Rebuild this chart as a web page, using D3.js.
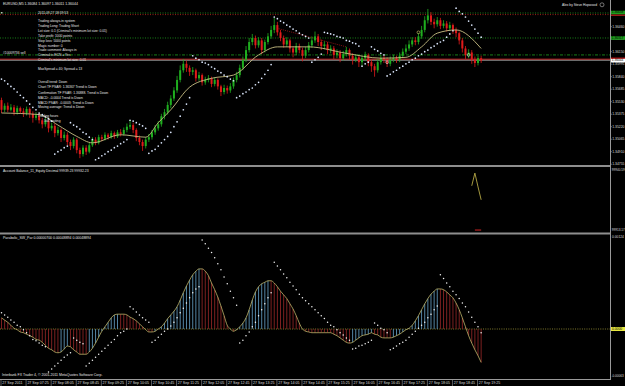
<!DOCTYPE html>
<html><head><meta charset="utf-8">
<script src="https://cdn.jsdelivr.net/npm/d3@7"></script>
<style>html,body{margin:0;padding:0;background:#000;overflow:hidden}svg{display:block}text{font-family:"Liberation Sans",Arial,sans-serif}</style>
</head><body><svg id="c" width="625" height="386"></svg>
<script>
// ---------- DATA ----------
const firstOpen = 1.3555;
const closes = [1.3543,1.3548,1.3543,1.3546,1.3540,1.3545,1.3541,1.3539,1.3544,1.3538,
 1.3533,1.3536,1.3530,1.3525,1.3529,1.3520,1.3523,1.3514,1.3518,1.3508,
 1.3512,1.3503,1.3498,1.3506,1.3493,1.3488,1.3496,1.3491,1.3499,1.3506,
 1.3502,1.3509,1.3507,1.3512,1.3509,1.3514,1.3510,1.3515,1.3513,1.3518,
 1.3522,1.3524,1.3518,1.3508,1.3503,1.3498,1.3506,1.3509,1.3515,1.3520,
 1.3525,1.3535,1.3540,1.3549,1.3557,1.3567,1.3580,1.3592,1.3600,1.3595,
 1.3590,1.3592,1.3582,1.3586,1.3577,1.3580,1.3582,1.3575,1.3580,1.3572,
 1.3565,1.3570,1.3567,1.3572,1.3580,1.3586,1.3595,1.3605,1.3617,1.3627,
 1.3632,1.3623,1.3629,1.3617,1.3627,1.3634,1.3642,1.3648,1.3639,1.3632,
 1.3624,1.3629,1.3619,1.3614,1.3622,1.3617,1.3610,1.3617,1.3623,1.3629,
 1.3634,1.3627,1.3622,1.3624,1.3617,1.3619,1.3611,1.3614,1.3607,1.3612,
 1.3617,1.3610,1.3605,1.3608,1.3602,1.3607,1.3611,1.3602,1.3597,1.3592,
 1.3602,1.3607,1.3605,1.3600,1.3605,1.3607,1.3605,1.3610,1.3615,1.3619,
 1.3624,1.3629,1.3627,1.3634,1.3642,1.3654,1.3660,1.3652,1.3649,1.3654,
 1.3647,1.3650,1.3644,1.3648,1.3642,1.3638,1.3629,1.3619,1.3611,1.3614,
 1.3605,1.3601,1.3607,1.3604];
const highs = [1.3558,1.3551,1.3552,1.3550,1.3549,1.3548,1.3547,1.3545,1.3547,1.3546,
 1.3541,1.3540,1.3539,1.3533,1.3533,1.3531,1.3527,1.3526,1.3522,1.3520,
 1.3516,1.3515,1.3506,1.3509,1.3508,1.3496,1.3499,1.3499,1.3502,1.3509,
 1.3509,1.3512,1.3512,1.3515,1.3514,1.3517,1.3516,1.3518,1.3519,1.3521,
 1.3526,1.3530,1.3527,1.3520,1.3511,1.3506,1.3509,1.3513,1.3518,1.3524,
 1.3529,1.3538,1.3544,1.3553,1.3561,1.3571,1.3585,1.3598,1.3606,1.3604,
 1.3598,1.3596,1.3594,1.3590,1.3588,1.3584,1.3586,1.3584,1.3583,1.3582,
 1.3574,1.3574,1.3573,1.3576,1.3583,1.3590,1.3599,1.3609,1.3622,1.3632,
 1.3637,1.3635,1.3633,1.3632,1.3630,1.3638,1.3647,1.3657,1.3652,1.3642,
 1.3635,1.3633,1.3631,1.3622,1.3626,1.3625,1.3620,1.3621,1.3627,1.3634,
 1.3640,1.3637,1.3630,1.3628,1.3627,1.3623,1.3622,1.3618,1.3617,1.3616,
 1.3621,1.3619,1.3613,1.3612,1.3611,1.3610,1.3615,1.3613,1.3605,1.3600,
 1.3606,1.3611,1.3610,1.3608,1.3609,1.3611,1.3610,1.3614,1.3619,1.3624,
 1.3629,1.3633,1.3633,1.3638,1.3647,1.3659,1.3668,1.3664,1.3656,1.3658,
 1.3657,1.3654,1.3653,1.3652,1.3650,1.3645,1.3640,1.3632,1.3622,1.3618,
 1.3617,1.3609,1.3610,1.3610];
const lows = [1.3539,1.3540,1.3540,1.3541,1.3536,1.3537,1.3538,1.3534,1.3536,1.3533,
 1.3527,1.3530,1.3526,1.3520,1.3522,1.3515,1.3517,1.3509,1.3511,1.3503,
 1.3505,1.3499,1.3493,1.3495,1.3489,1.3483,1.3485,1.3487,1.3489,1.3497,
 1.3499,1.3500,1.3504,1.3505,1.3506,1.3507,1.3507,1.3508,1.3510,1.3511,
 1.3515,1.3519,1.3514,1.3504,1.3499,1.3492,1.3495,1.3503,1.3506,1.3512,
 1.3517,1.3522,1.3531,1.3537,1.3545,1.3554,1.3564,1.3577,1.3589,1.3590,
 1.3585,1.3586,1.3578,1.3579,1.3573,1.3574,1.3577,1.3571,1.3572,1.3568,
 1.3560,1.3562,1.3563,1.3564,1.3569,1.3577,1.3583,1.3592,1.3602,1.3614,
 1.3623,1.3619,1.3620,1.3612,1.3614,1.3624,1.3631,1.3638,1.3635,1.3628,
 1.3620,1.3621,1.3614,1.3608,1.3611,1.3613,1.3603,1.3607,1.3614,1.3620,
 1.3626,1.3622,1.3617,1.3618,1.3612,1.3613,1.3606,1.3607,1.3602,1.3604,
 1.3609,1.3605,1.3599,1.3602,1.3596,1.3598,1.3604,1.3597,1.3590,1.3584,
 1.3589,1.3599,1.3601,1.3596,1.3597,1.3602,1.3601,1.3602,1.3607,1.3612,
 1.3616,1.3621,1.3623,1.3624,1.3631,1.3639,1.3650,1.3648,1.3644,1.3646,
 1.3643,1.3644,1.3640,1.3641,1.3637,1.3633,1.3624,1.3614,1.3606,1.3607,
 1.3600,1.3596,1.3598,1.3601];
const psar = [1.3581,1.3579,1.3575,1.3572,1.3569,1.3565,1.3561,1.3558,1.3554,1.3550,1.3546,1.3543,1.3539,1.3537,1.3534,1.3532,1.3529,
 1.3488,1.3491,1.3493,1.3496,1.3498,
 1.3527,1.3524,1.3522,1.3519,1.3515,1.3513,1.3509,1.3506,
 1.3481,1.3483,1.3486,1.3488,1.3491,1.3493,1.3496,1.3498,1.3501,1.3503,1.3506,
 1.3530,1.3529,1.3527,1.3525,1.3523,1.3520,
 1.3489,1.3492,1.3494,1.3498,1.3502,1.3506,1.3510,1.3515,1.3522,1.3528,1.3535,1.3543,1.3550,1.3558,
 1.3610,1.3607,1.3605,1.3602,1.3601,1.3599,1.3596,1.3594,1.3591,1.3589,1.3586,1.3584,1.3581,1.3579,
 1.3558,1.3560,1.3563,1.3565,1.3568,1.3570,1.3574,1.3577,1.3582,1.3587,1.3592,1.3599,
 1.3658,1.3656,1.3653,1.3651,1.3648,1.3646,1.3643,1.3641,1.3638,1.3636,1.3634,1.3632,
 1.3602,1.3605,1.3608,1.3612,
 1.3639,1.3638,1.3637,1.3636,1.3634,1.3633,1.3632,1.3629,1.3628,1.3626,1.3625,1.3622,
 1.3597,1.3600,1.3602,
 1.3621,1.3618,1.3616,1.3613,1.3611,
 1.3585,1.3587,1.3590,1.3592,1.3595,1.3597,1.3600,1.3602,1.3605,1.3607,1.3610,1.3612,1.3615,1.3617,1.3620,1.3622,1.3625,1.3627,1.3629,1.3633,1.3637,1.3641,
 1.3669,1.3665,1.3662,1.3658,1.3653,1.3648,1.3643,1.3638,1.3633];
const maBars = [0,12,18,24,29,38,46,50,54,60,67,74,82,88,98,110,121,129,134,139,145,153];
const maVals = [1.3539,1.3537,1.3524,1.3510,1.3502,1.3512,1.3509,1.3527,1.3543,1.3571,1.3582,1.3586,1.3611,1.3621,1.3621,1.3613,1.3607,1.3608,1.3621,1.3638,1.3642,1.3619];
// oscillator in units of 0.00001
const osc = [15,12,9,5,1,-1,-4,-5,-7,-9,
 -11,-14,-15,-18,-22,-26,-28,-31,-32,-31,
 -27,-23,-24,-28,-31,-34,-34,-34,-31,-26,
 -19,-11,-3,3,9,15,19,20,20,20,
 19,16,14,11,7,3,-1,-4,-4,-3,
 0,3,8,14,19,24,30,39,49,58,
 66,73,78,81,81,78,72,62,53,43,
 31,18,5,0,-3,-1,3,8,15,26,
 39,50,57,61,63,65,65,62,57,51,
 46,41,34,27,18,8,0,-3,-4,-5,
 -5,-5,-5,-5,-5,-5,-7,-9,-12,-15,
 -18,-19,-18,-15,-12,-9,-8,-7,-5,-7,
 -8,-11,-12,-12,-12,-11,-9,-7,-4,-1,
 1,5,11,18,26,34,41,47,51,54,
 54,53,50,46,42,35,26,15,3,-9,
 -19,-28,-36,-45];
const oscSar = [22,19,16,12,9,5,3,-1,-5,-9,-14,-16,-19,-22,-24,
 -58,-54,-50,-46,-42,-38,-35,-32,
 -12,-15,-18,-20,
 -50,-46,-42,-38,-34,-30,-26,-22,-18,-14,-9,-5,-3,0,
 30,27,23,19,15,12,9,
 -18,-15,-11,-7,-3,
 0,4,9,15,22,28,35,42,49,54,57,
 120,115,109,103,96,88,80,70,61,51,42,32,
 -19,-15,-9,-4,3,9,18,26,34,42,49,
 90,85,80,74,69,63,58,53,47,42,38,34,30,26,22,18,14,9,5,3,-1,-5,-8,-12,-15,
 -27,-26,-23,-22,-20,-18,-15,
 8,5,1,-1,-5,
 -28,-26,-23,-20,-18,-15,-11,-7,-3,1,5,9,15,20,26,31,
 73,68,62,57,51,46,41,35,30,23,16,9,3,-5];
const eqBars = [150,151,152,153];
const eqVals = [99933.5,99939.2,99933.0,99927.2];
const balBars = [151,152,153];
const balVals = [99913.6,99913.6,99913.6];
const priceTicks = [1.34755,1.34910,1.35065,1.35220,1.35375,1.35530,1.35685,1.35840,1.35995,1.36150,1.36305,1.36460];
const timeBars = [0,8,16,24,32,40,48,56,64,72,80,88,96,104,112,120,128,136,144,152];
const timeLabels = ["27 Sep 2011","27 Sep 07:25","27 Sep 08:05","27 Sep 08:45","27 Sep 09:25","27 Sep 10:05","27 Sep 10:45","27 Sep 11:25","27 Sep 12:05","27 Sep 12:45","27 Sep 13:25","27 Sep 14:05","27 Sep 14:45","27 Sep 15:25","27 Sep 16:05","27 Sep 16:45","27 Sep 17:25","27 Sep 18:05","27 Sep 18:45","27 Sep 19:25"];
const infoLines = [["2011.09.27 18:59:53",13.3],["Trading always-in system",21],["Trading Long: Trading Short",26.3],
 ["Lot size: 0.1 (Criminal's minimum lot size: 0.01)",31.3],["Take profit: 1000 points",36],["Stop loss: 5000 points",41],
 ["Magic number: 0",45.7],["Trade comment: Always in",50.3],["Criminal is ECN = Yes",55],["Criminal's minimum lot size: 0.01",59.7],
 ["MaxSpread = 40; Spread = 13",69.3],["Overall trend: Down",81.7],["Chart TF PSAR: 1.36367 Trend is Down",87.3],
 ["Confirmation TF PSAR: 1.36888. Trend is Down",92.7],["MACD: -0.0004 Trend is Down",97.7],["MACD PSAR: -0.0003; Trend is Down",102.7],
 ["Moving average: Trend is Down",107.3],["Trading hours",115.7]];
const levels = {slTop:1.3663, sl:1.3661, tp:1.3632, order:1.3611, ask:1.36057, bid:1.36044};

// ---------- DRAW ----------
const svg = d3.select("#c");
svg.append("rect").attr("width",625).attr("height",386).attr("fill","#000");
const x = d3.scaleLinear().domain([0,153]).range([1.5,1.5+153*3.135]);
const yP = d3.scaleLinear().domain([1.34755,1.36460]).range([164.2,26.7]);
const yO = d3.scaleLinear().domain([0,124]).range([329,237]);
const yE = d3.scaleLinear().domain([99913.17,99940.59]).range([231,170]);
const opens = [firstOpen].concat(closes.slice(0,-1));
const fs = (s)=>s+"px";

const main = svg.append("g");
svg.append("clipPath").attr("id","mc").append("rect").attr("x",0).attr("y",0).attr("width",610).attr("height",165);
main.attr("clip-path","url(#mc)");

const hl = (p,col,dash,w)=>main.append("line").attr("x1",0).attr("x2",610).attr("y1",yP(p)).attr("y2",yP(p))
  .attr("stroke",col).attr("stroke-width",w||0.8).attr("stroke-dasharray",dash||null);
hl(levels.slTop,"#1e9e1e","1,1.5");
hl(levels.sl,"#c02020","1,1.5");
hl(levels.tp,"#1e9e1e","1,1.5");
hl(levels.order,"#1e9e1e","3,1.5,1,1.5");
hl(levels.ask,"#d02020",null,1);
hl(levels.bid,"#b8b8b8",null,0.8);

main.append("line").attr("x1",x(88)).attr("y1",yP(1.3644)).attr("x2",x(110)).attr("y2",yP(1.3621))
  .attr("stroke","#a01818").attr("stroke-width",0.8).attr("stroke-dasharray","1,1");

const idx = d3.range(closes.length);
const up = i => closes[i] >= opens[i];
main.append("g").selectAll("line").data(idx).join("line")
  .attr("x1",i=>x(i)).attr("x2",i=>x(i)).attr("y1",i=>yP(highs[i])).attr("y2",i=>yP(lows[i]))
  .attr("stroke",i=>up(i)?"#1fae1f":"#e01b1b").attr("stroke-width",0.8);
main.append("g").selectAll("rect").data(idx).join("rect")
  .attr("x",i=>x(i)-1).attr("width",2)
  .attr("y",i=>yP(Math.max(opens[i],closes[i])))
  .attr("height",i=>Math.max(0.8,Math.abs(yP(opens[i])-yP(closes[i]))))
  .attr("fill",i=>up(i)?"#1fae1f":"#e01b1b");

main.append("path").datum(maBars.map((b,k)=>[b,maVals[k]]))
  .attr("d",d3.line().x(d=>x(d[0])).y(d=>yP(d[1])).curve(d3.curveMonotoneX))
  .attr("fill","none").attr("stroke","#c8bf84").attr("stroke-width",0.9);

main.append("g").selectAll("circle").data(idx).join("circle")
  .attr("cx",i=>x(i)).attr("cy",i=>yP(psar[i])).attr("r",0.85).attr("fill","#dde9ff");

[[123,1.3602,"#e0e0e0"],[133,1.3639,"#d8d070"],[149,1.3611,"#f0e0e0"]].forEach(m=>{
  main.append("circle").attr("cx",x(m[0])).attr("cy",yP(m[1])).attr("r",1.4).attr("fill","none").attr("stroke",m[2]).attr("stroke-width",0.6);
});

const tx = (t,xx,yy,size,col,anchor)=>svg.append("text").attr("x",xx).attr("y",yy).text(t)
  .attr("font-size",fs(size)).attr("fill",col||"#e6e6e6").attr("text-anchor",anchor||"start").attr("dominant-baseline","middle");
tx("EURUSD,M5  1.36084 1.36097 1.36011 1.36044",3,4.5,3.5);
tx("Alex by Steve Hopwood",597,5,3.3,"#e6e6e6","end");
svg.append("circle").attr("cx",602).attr("cy",4.8).attr("r",2).attr("fill","none").attr("stroke","#bbb").attr("stroke-width",0.6);
infoLines.forEach(l=>tx(l[0],38,l[1],3.3));
tx("Still waiting",44,120.7,3.3);
tx("#10009736 sell",3,53.5,3.3);
svg.append("rect").attr("x",1).attr("y",12).attr("width",1.5).attr("height",1.5).attr("fill","#bbb");

svg.append("rect").attr("x",0).attr("y",165).attr("width",611).attr("height",2).attr("fill","#8e8e8e");
svg.append("rect").attr("x",0).attr("y",232.5).attr("width",611).attr("height",2).attr("fill","#8e8e8e");
svg.append("line").attr("x1",610.5).attr("x2",610.5).attr("y1",0).attr("y2",379.5).attr("stroke","#9a9a9a").attr("stroke-width",1);
svg.append("line").attr("x1",0).attr("x2",611).attr("y1",379.5).attr("y2",379.5).attr("stroke","#9a9a9a").attr("stroke-width",1);

priceTicks.forEach(p=>{
  svg.append("line").attr("x1",610).attr("x2",612).attr("y1",yP(p)).attr("y2",yP(p)).attr("stroke","#9a9a9a").attr("stroke-width",0.6);
  tx(p.toFixed(5),612.2,yP(p),3.4,"#dcdcdc");
});
const box = (p,fill,col,label)=>{
  svg.append("rect").attr("x",611).attr("y",yP(p)-1.8).attr("width",14).attr("height",3.6).attr("fill",fill);
  tx(label,611.8,yP(p),3.2,col);
};
box(levels.slTop+0.00006,"#1c9c1c","#000","1.36638");
svg.append("rect").attr("x",611).attr("y",yP(levels.sl)).attr("width",14).attr("height",1.2).attr("fill","#c02020");
box(levels.tp,"#1c9c1c","#000","1.36317");
// ask box mostly hidden under the bid box
svg.append("rect").attr("x",611).attr("y",yP(levels.ask)-1.6).attr("width",14).attr("height",2).attr("fill","#d01818");
box(levels.bid-0.00005,"#ffffff","#000","1.36044");

// ---- panel 2: equity ----
tx("Account Balance_11_Equity Decimal 99939.23 99932.23",3,171,3.4);
tx("99940.59",611.8,170,3.1,"#dcdcdc");
tx("99913.17",611.8,230.5,3.1,"#dcdcdc");
svg.append("path").datum(eqBars.map((b,k)=>[b,eqVals[k]]))
  .attr("d",d3.line().x(d=>x(d[0])).y(d=>yE(d[1])))
  .attr("fill","none").attr("stroke","#b5a845").attr("stroke-width",0.9);
svg.append("path").datum(balBars.map((b,k)=>[b,balVals[k]]))
  .attr("d",d3.line().x(d=>x(d[0])).y(d=>yE(d[1])))
  .attr("fill","none").attr("stroke","#b02020").attr("stroke-width",1.2);

// ---- panel 3: oscillator ----
tx("Parabolic_SW_Par 0.00000700 0.00048894 0.00048894",3,238,3.5);
tx("0.00124",612,237.5,3.3,"#dcdcdc");
tx("-0.00063",611.5,376,3.1,"#dcdcdc");
svg.append("line").attr("x1",0).attr("x2",610).attr("y1",yO(0)).attr("y2",yO(0))
  .attr("stroke","#b8b040").attr("stroke-width",0.7).attr("stroke-dasharray","1,1.3");
svg.append("rect").attr("x",611).attr("y",yO(0)-2).attr("width",14).attr("height",4).attr("fill","#e8e840");
tx("0.0000",612,yO(0),3.3,"#000");
svg.append("g").selectAll("line").data(idx).join("line")
  .attr("x1",i=>x(i)).attr("x2",i=>x(i)).attr("y1",yO(0)).attr("y2",i=>yO(osc[i]))
  .attr("stroke",i=>(i>0 && osc[i]>osc[i-1])?"#5d93b5":"#8a2424").attr("stroke-width",0.9);
svg.append("path").datum(idx)
  .attr("d",d3.line().x(i=>x(i)).y(i=>yO(osc[i])).curve(d3.curveMonotoneX))
  .attr("fill","none").attr("stroke","#bdb46a").attr("stroke-width",0.8);
svg.append("g").selectAll("circle").data(idx).join("circle")
  .attr("cx",i=>x(i)).attr("cy",i=>yO(oscSar[i])).attr("r",0.75).attr("fill","#f4f4f4");

tx("Interbank FX Trader 4, \u00a9 2001-2011 MetaQuotes Software Corp.",2,375.5,3.5);
timeBars.forEach((b,k)=>{
  svg.append("line").attr("x1",x(b)-0.5).attr("x2",x(b)-0.5).attr("y1",380).attr("y2",386).attr("stroke","#9a9a9a").attr("stroke-width",0.6);
  tx(timeLabels[k],x(b)+0.8,383.3,3.6,"#dcdcdc");
});
</script></body></html>
